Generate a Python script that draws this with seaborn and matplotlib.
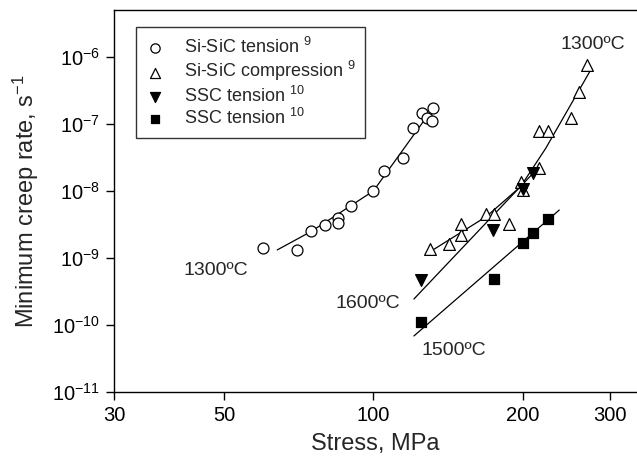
import matplotlib
matplotlib.use("Agg")
import numpy as np
import pandas as pd
import matplotlib.pyplot as plt
import seaborn as sns
from matplotlib.ticker import FixedLocator, FixedFormatter, NullLocator

# Measured points (stress in MPa, minimum creep rate in 1/s)
sisic_tension_stress = [60, 70, 75, 80, 85, 85, 90, 100, 105, 115, 120, 125.5, 132, 128.5, 131.5]
sisic_tension_rate = [1.40e-9, 1.32e-9, 2.5e-9, 3.14e-9, 3.95e-9, 3.3e-9, 5.97e-9, 1.0e-8,
                      1.99e-8, 3.14e-8, 8.7e-8, 1.48e-7, 1.75e-7, 1.24e-7, 1.12e-7]

sisic_comp_stress = [130, 142, 150, 150, 169, 175, 188, 198, 200, 216, 216, 225, 250, 260, 270]
sisic_comp_rate = [1.35e-9, 1.6e-9, 2.2e-9, 3.18e-9, 4.54e-9, 4.54e-9, 3.18e-9, 1.38e-8,
                   1.05e-8, 2.18e-8, 7.94e-8, 7.94e-8, 1.22e-7, 3.03e-7, 7.6e-7]

ssc_1600_stress = [125, 174.5, 200, 209.5]
ssc_1600_rate = [4.7e-10, 2.66e-9, 1.07e-8, 1.88e-8]

ssc_1500_stress = [125, 175, 200, 210, 225]
ssc_1500_rate = [1.10e-10, 4.94e-10, 1.69e-9, 2.39e-9, 3.78e-9]

# Fit curves
fit_tension_stress = [64, 75, 100, 126]
fit_tension_rate = [1.32e-9, 2.5e-9, 1.0e-8, 1.08e-7]
fit_comp_stress = [132.5, 169, 198, 222.6, 275.5]
fit_comp_rate = [1.35e-9, 4.16e-9, 1.16e-8, 4.34e-8, 6.8e-7]
fit_1600_stress = [120.7, 215.7]
fit_1600_rate = [2.44e-10, 2.28e-8]
fit_1500_stress = [120.7, 237]
fit_1500_rate = [6.86e-11, 5.2e-9]

x_ticks = [30, 50, 100, 200, 300]
y_ticks = [1e-11, 1e-10, 1e-9, 1e-8, 1e-7, 1e-6]
y_tick_labels = ['$10^{-11}$', '$10^{-10}$', '$10^{-9}$', '$10^{-8}$', '$10^{-7}$', '$10^{-6}$']

sns.set_theme(style="ticks")
plt.rcParams['font.family'] = ['Liberation Sans', 'DejaVu Sans']
plt.rcParams['mathtext.fontset'] = 'custom'
plt.rcParams['mathtext.rm'] = 'Liberation Sans'
plt.rcParams['mathtext.it'] = 'Liberation Sans:italic'
plt.rcParams['mathtext.bf'] = 'Liberation Sans:bold'

fig = plt.figure(figsize=(6.37, 4.61), dpi=100)
ax = fig.add_axes([114 / 637, 69 / 461, 523 / 637, 382 / 461])

# fit lines
for xs, ys in [(fit_tension_stress, fit_tension_rate), (fit_comp_stress, fit_comp_rate),
               (fit_1600_stress, fit_1600_rate), (fit_1500_stress, fit_1500_rate)]:
    line_df = pd.DataFrame({'stress': xs, 'rate': ys})
    sns.lineplot(data=line_df, x='stress', y='rate', ax=ax, color='black',
                 linewidth=0.9, sort=False, estimator=None, zorder=2)

# data points
series = [
    (sisic_tension_stress, sisic_tension_rate, 'o', 'white', 62, 'Si-SiC tension $^{9}$'),
    (sisic_comp_stress, sisic_comp_rate, '^', 'white', 72, 'Si-SiC compression $^{9}$'),
    (ssc_1600_stress, ssc_1600_rate, 'v', 'black', 72, 'SSC tension $^{10}$'),
    (ssc_1500_stress, ssc_1500_rate, 's', 'black', 56, 'SSC tension $^{10}$'),
]
for xs, ys, mk, fc, sz, lab in series:
    pts = pd.DataFrame({'stress': xs, 'rate': ys})
    sns.scatterplot(data=pts, x='stress', y='rate', ax=ax, marker=mk, color=fc,
                    edgecolor='black', linewidth=0.9, s=sz, label=lab, zorder=3)

ax.set_xscale('log')
ax.set_yscale('log')
ax.set_xlim(30, 340)
ax.set_ylim(1e-11, 5.03e-6)

ax.xaxis.set_major_locator(FixedLocator(x_ticks))
ax.xaxis.set_major_formatter(FixedFormatter([str(t) for t in x_ticks]))
ax.xaxis.set_minor_locator(NullLocator())
ax.yaxis.set_major_locator(FixedLocator(y_ticks))
ax.yaxis.set_major_formatter(FixedFormatter(y_tick_labels))
ax.yaxis.set_minor_locator(NullLocator())
ax.tick_params(axis='both', direction='out', length=6, width=1, colors='black',
               labelsize=14.5, pad=4)

for side in ['top', 'left', 'bottom']:
    ax.spines[side].set_color('black')
    ax.spines[side].set_linewidth(1)
ax.spines['right'].set_visible(False)

ax.set_xlabel('Stress, MPa', fontsize=17, labelpad=6)
ax.set_ylabel('Minimum creep rate, s$^{-1}$', fontsize=17, labelpad=8)

# temperature annotations
ax.text(48.1, 6.6e-10, '1300ºC', fontsize=14, ha='center', va='center')
ax.text(97.6, 2.06e-10, '1600ºC', fontsize=14, ha='center', va='center')
ax.text(145, 4.1e-11, '1500ºC', fontsize=14, ha='center', va='center')
ax.text(276.6, 1.56e-6, '1300ºC', fontsize=14, ha='center', va='center')

leg = ax.legend(loc='upper left', bbox_to_anchor=(0.042, 0.955), borderaxespad=0,
                fontsize=13, frameon=True, fancybox=False, handlelength=1.0,
                handletextpad=1.1, labelspacing=0.12, borderpad=0.55, markerscale=0.85)
leg.get_frame().set_edgecolor('black')
leg.get_frame().set_linewidth(1)

fig.savefig('out.png', dpi=100)
